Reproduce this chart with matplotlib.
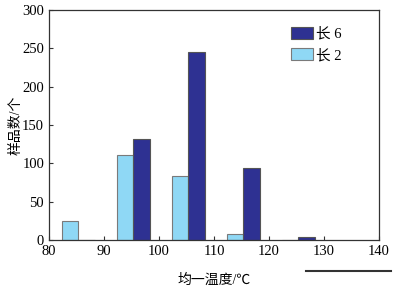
import matplotlib
matplotlib.use('Agg')
import matplotlib.pyplot as plt
from matplotlib.lines import Line2D
import numpy as np

plt.rcParams['font.family'] = ['Liberation Serif', 'Noto Sans CJK SC']

# data
centers = [85.3, 95.3, 105.3, 115.3, 125.3]
chang2 = [25, 111, 84, 8, 0]
chang6 = [0, 132, 245, 94, 4]
xticks = [80, 90, 100, 110, 120, 130, 140]
yticks = [0, 50, 100, 150, 200, 250, 300]

fig = plt.figure(figsize=(3.99, 2.9), dpi=100)
ax = fig.add_axes([0.1228, 0.1724, 0.8272, 0.7931])

w = 3.0
c = np.array(centers)
ax.bar(c - w/2, chang2, width=w, color='#8fd8f5', edgecolor='#7a7a7a', linewidth=0.8, label='长 2')
ax.bar(c + w/2, chang6, width=w, color='#2e3192', edgecolor='#555555', linewidth=0.8, label='长 6')

ax.set_xlim(80, 140)
ax.set_ylim(0, 300)
ax.set_xticks(xticks)
ax.set_yticks(yticks)
ax.tick_params(direction='in', length=3, width=0.8, labelsize=10.5, colors='#333333', labelcolor='black')
for lab in ax.get_xticklabels() + ax.get_yticklabels():
    lab.set_fontfamily('Liberation Serif')
for s in ax.spines.values():
    s.set_color('#333333')
    s.set_linewidth(0.9)

ax.set_xlabel('均一温度/℃', fontsize=10, labelpad=11)
ax.set_ylabel('样品数/个', fontsize=10, labelpad=0)

h, l = ax.get_legend_handles_labels()
ax.legend(h[::-1], l[::-1], loc='upper right', bbox_to_anchor=(0.925, 0.985), frameon=False,
          handlelength=1.5, handleheight=0.9, handletextpad=0.2, labelspacing=0.5,
          prop={'family': ['Liberation Serif', 'Noto Sans CJK SC'], 'size': 10.5})

# stray rule under the right end of the axis
fig.add_artist(Line2D([306/399, 391/399], [1 - 271/290, 1 - 271/290], color='#333333', linewidth=1.5))

fig.savefig('out.png', dpi=100)
